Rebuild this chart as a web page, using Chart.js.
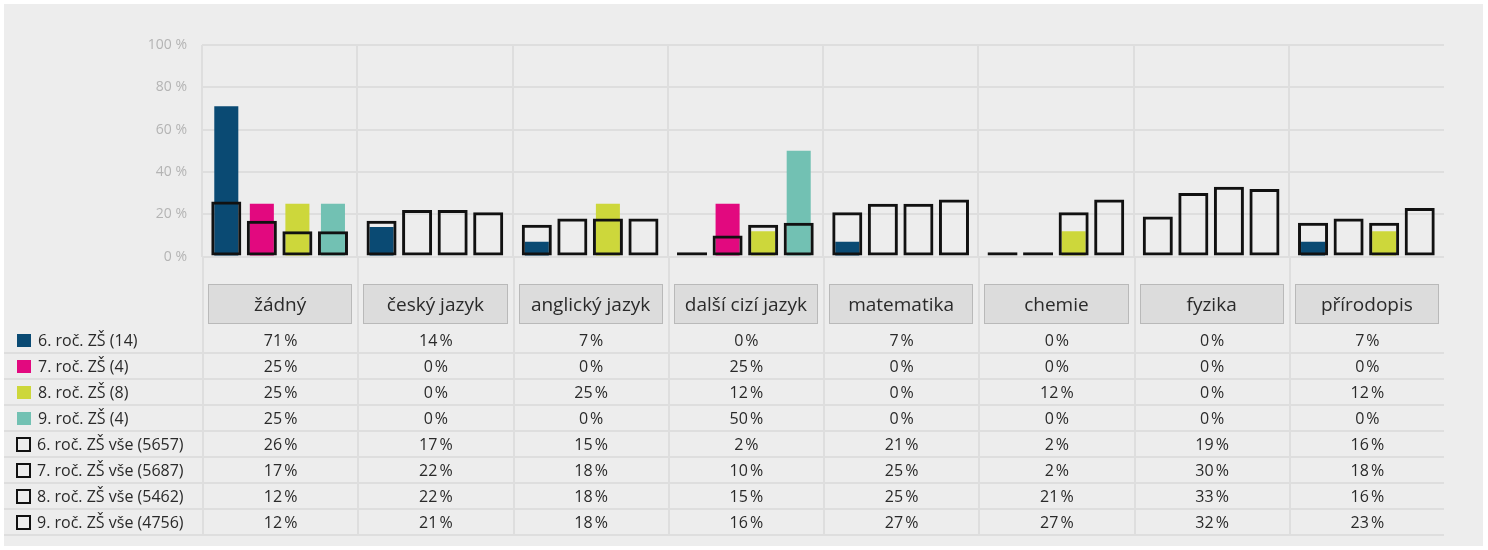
<!DOCTYPE html>
<html lang="cs">
<head>
    <meta charset="UTF-8">
    <title>Předměty</title>
    <style>
        body {
            margin: 0;
            background: #ffffff;
            font-family: "Open Sans", Arial, sans-serif;
        }
        .panel {
            position: absolute;
            left: 4px;
            top: 4px;
            width: 1479px;
            height: 542px;
            background: #ededed;
        }
        .chart-box {
            position: absolute;
            left: 0;
            top: 0;
            width: 1488px;
            height: 280px;
        }
        #dataTable {
            position: absolute;
            left: 4px;
            top: 256px;
            width: 1440px;
            table-layout: fixed;
            border-collapse: separate;
            border-spacing: 0;
            color: #2a2a2a;
            font-size: 16px;
        }
        #dataTable td {
            padding: 0;
            text-align: center;
            height: 24px;
            line-height: 24px;
            border-bottom: 2px solid #dedede;
            white-space: nowrap;
        }
        #dataTable td.val {
            border-left: 2px solid #dedede;
        }
        #dataTable tr.head td {
            height: 72px;
            border-bottom: none;
            vertical-align: top;
        }
        #dataTable td.name {
            text-align: left;
            padding-left: 13px;
        }
        .cat {
            margin: 28px 5px 0 4px;
            height: 38px;
            line-height: 38px;
            background: #dcdcdc;
            border: 1px solid #b9b9b9;
            font-size: 19px;
            color: #2a2a2a;
        }
        .sw {
            display: inline-block;
            width: 14px;
            height: 13px;
            margin-right: 7px;
            vertical-align: -1px;
            box-sizing: border-box;
        }
        .sw.outline {
            border: 2.5px solid #111;
            width: 15px;
            height: 15px;
            margin-left: -1px;
            margin-right: 6px;
            vertical-align: -2px;
        }
    </style>
    <script src="https://cdn.jsdelivr.net/npm/chart.js"></script>
</head>
<body>
    <div class="panel"></div>
    <div class="chart-box"><canvas id="subjChart"></canvas></div>
    <table id="dataTable"></table>

    <script>
        // kategorie a hodnoty (v %)
        const categories = ['žádný', 'český jazyk', 'anglický jazyk', 'další cizí jazyk', 'matematika', 'chemie', 'fyzika', 'přírodopis'];
        const yTicks = [0, 20, 40, 60, 80, 100];

        const seriesNames = ['6. roč. ZŠ (14)', '7. roč. ZŠ (4)', '8. roč. ZŠ (8)', '9. roč. ZŠ (4)'];
        const allNames = ['6. roč. ZŠ vše (5657)', '7. roč. ZŠ vše (5687)', '8. roč. ZŠ vše (5462)', '9. roč. ZŠ vše (4756)'];
        const seriesColors = ['#0a4a73', '#e2097f', '#cdd73b', '#72c1b3'];

        const grade6 = [71, 14, 7, 0, 7, 0, 0, 7];
        const grade7 = [25, 0, 0, 25, 0, 0, 0, 0];
        const grade8 = [25, 0, 25, 12, 0, 12, 0, 12];
        const grade9 = [25, 0, 0, 50, 0, 0, 0, 0];

        const grade6All = [26, 17, 15, 2, 21, 2, 19, 16];
        const grade7All = [17, 22, 18, 10, 25, 2, 30, 18];
        const grade8All = [12, 22, 18, 15, 25, 21, 33, 16];
        const grade9All = [12, 21, 18, 16, 27, 27, 32, 23];

        const filled = [grade6, grade7, grade8, grade9];
        const totals = [grade6All, grade7All, grade8All, grade9All];

        // plný sloupec a obrys stejného ročníku sdílí jeden "stack" = stejnou pozici
        const datasets = [];
        filled.forEach((vals, i) => {
            datasets.push({
                label: seriesNames[i],
                data: vals,
                stack: 'r' + i,
                backgroundColor: seriesColors[i],
                borderWidth: 0,
                categoryPercentage: 0.916,
                barPercentage: 0.676,
                order: 2
            });
        });
        totals.forEach((vals, i) => {
            datasets.push({
                label: allNames[i],
                data: vals,
                stack: 'r' + i,
                backgroundColor: 'rgba(0,0,0,0)',
                borderColor: '#111111',
                borderWidth: 3,
                borderSkipped: false,
                categoryPercentage: 0.916,
                barPercentage: 0.845,
                order: 1
            });
        });

        new Chart(document.getElementById('subjChart'), {
            type: 'bar',
            data: { labels: categories, datasets: datasets },
            options: {
                responsive: true,
                maintainAspectRatio: false,
                animation: false,
                layout: { padding: { top: 45, bottom: 7, left: 0, right: 44 } },
                plugins: {
                    legend: { display: false },
                    tooltip: { enabled: false }
                },
                scales: {
                    x: {
                        ticks: { display: false },
                        border: { display: false },
                        grid: {
                            offset: true,
                            drawTicks: false,
                            lineWidth: 2,
                            color: ctx => ctx.type === 'tick' ? '#dedede' : 'rgba(0,0,0,0)'
                        }
                    },
                    y: {
                        min: 0,
                        max: 100,
                        stacked: false,
                        afterFit: scale => { scale.width = 202; },
                        afterBuildTicks: scale => { scale.ticks = yTicks.map(v => ({ value: v })); },
                        border: { display: false },
                        grid: { color: '#dedede', lineWidth: 2, drawTicks: false },
                        ticks: {
                            padding: 15,
                            color: '#b4b4b4',
                            font: { family: 'Open Sans', size: 14 },
                            callback: v => v + ' %'
                        }
                    }
                }
            }
        });

        // tabulka pod grafem
        const table = document.getElementById('dataTable');
        let html = '<colgroup><col style="width:198px">' + categories.map(() => '<col>').join('') + '</colgroup>';
        html += '<tr class="head"><td></td>' + categories.map(c => `<td class="val"><div class="cat">${c}</div></td>`).join('') + '</tr>';
        filled.forEach((vals, i) => {
            html += `<tr><td class="name"><span class="sw" style="background:${seriesColors[i]}"></span>${seriesNames[i]}</td>` +
                vals.map(v => `<td class="val">${v}\u202F%</td>`).join('') + '</tr>';
        });
        totals.forEach((vals, i) => {
            html += `<tr><td class="name"><span class="sw outline"></span>${allNames[i]}</td>` +
                vals.map(v => `<td class="val">${v}\u202F%</td>`).join('') + '</tr>';
        });
        table.innerHTML = html;
    </script>
</body>
</html>
